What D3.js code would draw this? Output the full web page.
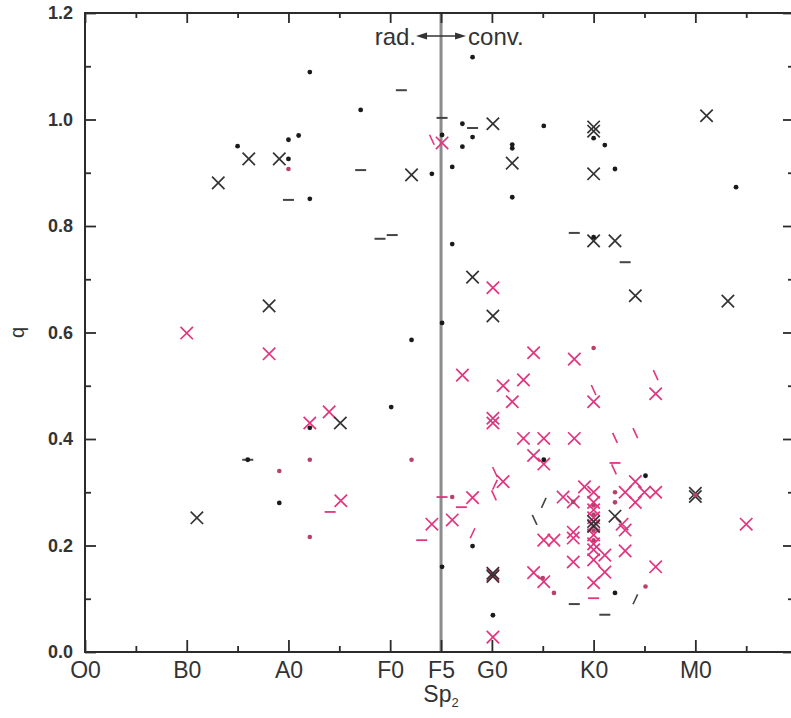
<!DOCTYPE html>
<html><head><meta charset="utf-8">
<script src="https://cdn.jsdelivr.net/npm/d3@7"></script>
<style>
body{margin:0;background:#fff}
svg{display:block}
text{font-family:"Liberation Sans",Arial,Helvetica,sans-serif}
</style>
</head><body>
<svg id="chart" width="791" height="718"></svg>
<script>
// ---------------- data ----------------
const xTickValues = [0, 10, 20, 30, 35, 40, 50, 60];
const xTickLabels = ["O0", "B0", "A0", "F0", "F5", "G0", "K0", "M0"];
const xMinorValues = [5, 15, 25, 45, 55, 65];
const yTickValues = [0, 0.2, 0.4, 0.6, 0.8, 1.0, 1.2];
const yMinorValues = [0.1, 0.3, 0.5, 0.7, 0.9, 1.1];
const boundarySp = 35;           // F5 : radiative / convective boundary
const yTitle = "q";
const boundaryLabel = ["Sp", "2"];
const leftNote = "rad.";
const rightNote = "conv.";

// [spectral type (O0=0 … M0=60), q]
const blackCrosses = [
  [13.1,0.881],[16.1,0.926],[19.1,0.926],[11.0,0.252],[18.1,0.650],[25.1,0.430],
  [32.1,0.896],[40.1,0.992],[42.0,0.918],[50.0,0.986],[50.0,0.978],[50.0,0.898],
  [61.1,1.007],[50.0,0.772],[52.1,0.772],[38.1,0.704],[40.1,0.631],[54.1,0.669],
  [63.2,0.659],[40.1,0.148],[40.1,0.142],[50.0,0.245],[50.0,0.236],[52.1,0.255],
  [60.0,0.298],[60.0,0.292]
];
const magentaCrosses = [
  [10.0,0.599],[18.1,0.560],[22.1,0.430],[24.0,0.451],[25.15,0.284],[34.1,0.240],
  [35.1,0.956],[40.1,0.684],[44.1,0.562],[48.1,0.550],[37.1,0.520],[41.1,0.500],
  [43.1,0.511],[42.0,0.470],[50.0,0.470],[56.1,0.485],[40.1,0.439],[40.1,0.430],
  [43.1,0.401],[45.1,0.401],[48.1,0.401],[44.1,0.369],[45.1,0.353],[41.1,0.320],
  [38.1,0.290],[36.1,0.248],[40.1,0.145],[40.1,0.028],[47.0,0.291],[48.0,0.282],
  [49.1,0.310],[50.0,0.300],[50.0,0.281],[50.0,0.267],[50.0,0.252],[50.0,0.238],
  [50.0,0.220],[50.0,0.203],[50.0,0.192],[50.0,0.173],[50.0,0.130],[51.1,0.182],
  [51.1,0.150],[48.0,0.225],[48.0,0.214],[48.0,0.169],[45.1,0.210],[46.1,0.210],
  [44.1,0.149],[45.1,0.132],[56.1,0.160],[53.1,0.190],[53.1,0.229],[52.8,0.240],
  [53.1,0.300],[54.1,0.320],[55.0,0.300],[56.1,0.300],[54.1,0.281],[65.0,0.240]
];
const blackDots = [
  [22.1,1.089],[27.1,1.018],[15.0,0.950],[20.0,0.962],[21.0,0.970],[20.0,0.926],
  [22.1,0.851],[38.1,1.117],[37.1,0.992],[38.1,0.967],[35.1,0.971],[37.1,0.949],
  [36.1,0.911],[34.1,0.898],[45.1,0.988],[42.0,0.953],[42.0,0.946],[42.0,0.854],
  [50.0,0.965],[51.1,0.952],[52.1,0.907],[64.0,0.873],[36.1,0.766],[50.0,0.779],
  [35.1,0.618],[32.1,0.586],[30.1,0.460],[22.1,0.421],[16.0,0.361],[19.1,0.280],
  [45.1,0.361],[55.1,0.331],[38.1,0.199],[35.1,0.160],[40.1,0.069],[52.1,0.111]
];
const magentaDots = [
  [20.0,0.907],[19.1,0.340],[22.1,0.361],[22.1,0.216],[32.1,0.361],[36.1,0.291],
  [50.0,0.571],[45.0,0.139],[46.1,0.111],[55.1,0.123],[52.1,0.300],[52.1,0.281],
  [48.0,0.282],[50.0,0.275],[50.0,0.258],[50.0,0.228],[50.0,0.210],[60.0,0.295]
];
const blackDashes = [
  [20.0,0.849],[27.1,0.905],[31.1,1.055],[29.0,0.776],[30.2,0.783],[35.1,1.003],
  [38.1,0.984],[48.1,0.787],[53.1,0.732],[48.1,0.090],[51.1,0.070],[16.0,0.361]
];
const magentaDashes = [
  [35.1,0.291],[37.0,0.272],[33.1,0.210],[24.1,0.263],[50.0,0.101],[52.1,0.355]
];
const magentaBackslashes = [
  [34.1,0.962],[40.3,0.338],[56.1,0.520],[50.0,0.492],[54.1,0.411],[52.1,0.402],
  [52.0,0.343],[40.2,0.294]
];
const magentaSlashes = [[38.1,0.223],[40.3,0.314]];
const blackSlashes = [[45.1,0.280],[54.1,0.099]];
const blackBackslashes = [[44.2,0.248]];

// ---------------- drawing ----------------
const svg = d3.select("#chart");
const L = 85, R = 793, T = 13, B = 652;
const x = d3.scaleLinear().domain([0, 69.6]).range([L, R]);
const y = d3.scaleLinear().domain([0, 1.2]).range([B, T]);

const INK = "#2b2b2b", MAG = "#e0357f", MAGDOT = "#b8406c";

function tidy(g){ g.select(".domain").remove(); g.selectAll("line").attr("stroke", INK).attr("stroke-width", 1.8); }

// boundary line
svg.append("line")
  .attr("x1", x(boundarySp)).attr("x2", x(boundarySp))
  .attr("y1", T).attr("y2", B)
  .attr("stroke", "#8c8c8c").attr("stroke-width", 3);

// axes
const xLab = d => xTickLabels[xTickValues.indexOf(d)];
svg.append("g").attr("transform", `translate(0,${B})`)
  .call(d3.axisBottom(x).tickValues(xTickValues).tickSize(-12).tickPadding(10).tickFormat(xLab))
  .call(tidy)
  .call(g => g.selectAll("text").attr("font-size", 23).attr("fill", "#333").attr("font-family", "Liberation Sans, Arial, sans-serif"));
svg.append("g").attr("transform", `translate(0,${B})`)
  .call(d3.axisBottom(x).tickValues(xMinorValues).tickSize(-6).tickFormat(""))
  .call(tidy);
svg.append("g").attr("transform", `translate(0,${T})`)
  .call(d3.axisTop(x).tickValues(xTickValues).tickSize(-10).tickFormat(""))
  .call(tidy);
svg.append("g").attr("transform", `translate(0,${T})`)
  .call(d3.axisTop(x).tickValues(xMinorValues).tickSize(-5).tickFormat(""))
  .call(tidy);

svg.append("g").attr("transform", `translate(${L},0)`)
  .call(d3.axisLeft(y).tickValues(yTickValues).tickSize(-11).tickPadding(12).tickFormat(d3.format(".1f")))
  .call(tidy)
  .call(g => g.selectAll("text").attr("font-size", 18).attr("font-weight", "bold").attr("fill", "#333").attr("font-family", "Liberation Sans, Arial, sans-serif"));
svg.append("g").attr("transform", `translate(${L},0)`)
  .call(d3.axisLeft(y).tickValues(yMinorValues).tickSize(-6).tickFormat(""))
  .call(tidy);
svg.append("g").attr("transform", `translate(${R},0)`)
  .call(d3.axisRight(y).tickValues(yTickValues).tickSize(-10).tickFormat(""))
  .call(tidy);
svg.append("g").attr("transform", `translate(${R},0)`)
  .call(d3.axisRight(y).tickValues(yMinorValues).tickSize(-5).tickFormat(""))
  .call(tidy);

// frame
svg.append("rect").attr("x", L).attr("y", T).attr("width", R - L).attr("height", B - T)
  .attr("fill", "none").attr("stroke", INK).attr("stroke-width", 2);

// titles
svg.append("text").attr("transform", `translate(24,${y(0.6)}) rotate(-90)`)
  .attr("text-anchor", "middle").attr("font-size", 20).attr("fill", "#333").text(yTitle);
const sp = svg.append("text").attr("x", x(boundarySp)).attr("y", 702)
  .attr("text-anchor", "middle").attr("font-size", 23).attr("fill", "#333");
sp.append("tspan").text(boundaryLabel[0]);
sp.append("tspan").attr("font-size", 13).attr("dy", 5).text(boundaryLabel[1]);

// rad./conv. annotation
const ay = 36, bx = x(boundarySp);
svg.append("text").attr("x", bx - 25).attr("y", 45).attr("text-anchor", "end")
  .attr("font-size", 24).attr("fill", "#333").text(leftNote);
svg.append("text").attr("x", bx + 27).attr("y", 45).attr("text-anchor", "start")
  .attr("font-size", 24).attr("fill", "#333").text(rightNote);
svg.append("line").attr("x1", bx - 20).attr("x2", bx + 20).attr("y1", ay).attr("y2", ay)
  .attr("stroke", "#333").attr("stroke-width", 1.5);
svg.append("path").attr("d", `M${bx-25},${ay}L${bx-14},${ay-3.5}L${bx-14},${ay+3.5}Z`).attr("fill", "#333");
svg.append("path").attr("d", `M${bx+25},${ay}L${bx+14},${ay-3.5}L${bx+14},${ay+3.5}Z`).attr("fill", "#333");

// markers
const marks = svg.append("g");
function dashes(data, color, angle, w) {
  marks.selectAll(null).data(data).join("line")
    .attr("x1", -5.5).attr("x2", 5.5).attr("y1", 0).attr("y2", 0)
    .attr("transform", d => `translate(${x(d[0])},${y(d[1])}) rotate(${angle})`)
    .attr("stroke", color).attr("stroke-width", w || 1.8);
}
function crosses(data, color) {
  marks.selectAll(null).data(data).join("path")
    .attr("d", "M-6.2,-6.2L6.2,6.2M-6.2,6.2L6.2,-6.2")
    .attr("transform", d => `translate(${x(d[0])},${y(d[1])})`)
    .attr("fill", "none").attr("stroke", color).attr("stroke-width", 1.7);
}
function dots(data, color, r) {
  marks.selectAll(null).data(data).join("circle")
    .attr("cx", d => x(d[0])).attr("cy", d => y(d[1])).attr("r", r)
    .attr("fill", color);
}
dashes(blackDashes, "#444", 0, 2);
dashes(magentaDashes, MAG, 0, 1.8);
dashes(magentaBackslashes, MAG, 65, 1.6);
dashes(magentaSlashes, MAG, -65, 1.6);
dashes(blackSlashes, "#444", -65, 1.6);
dashes(blackBackslashes, "#444", 65, 1.6);
crosses(magentaCrosses, MAG);
crosses(blackCrosses, "#333");
dots(magentaDots, MAGDOT, 2.3);
dots(blackDots, "#1a1a1a", 2.4);
</script>
</body></html>
